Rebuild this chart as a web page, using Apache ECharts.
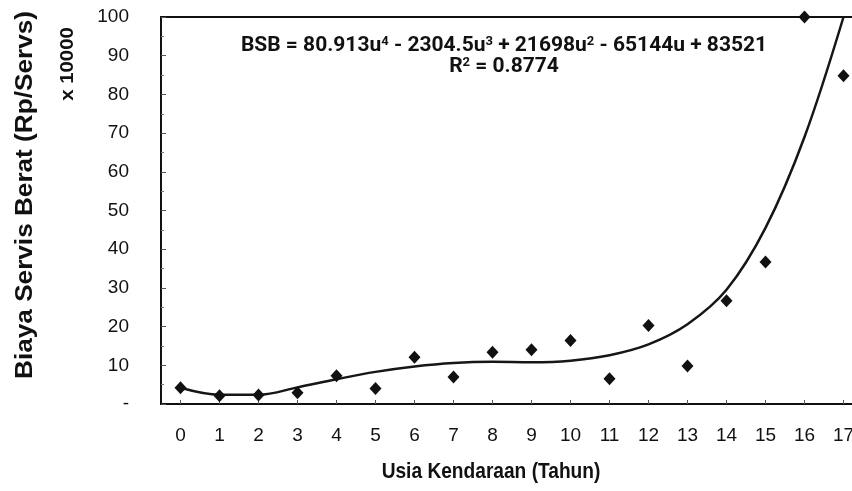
<!DOCTYPE html>
<html><head><meta charset="utf-8">
<script src="https://cdn.jsdelivr.net/npm/echarts@6/dist/echarts.min.js"></script>
<style>html,body{margin:0;padding:0;background:#fff;overflow:hidden;width:852px;height:491px}#c{width:866px;height:491px}</style>
</head><body><div id="c"></div>
<script>
const years = ['0','1','2','3','4','5','6','7','8','9','10','11','12','13','14','15','16','17'];
const biaya = [4.2, 2.1, 2.3, 2.9, 7.3, 4.0, 12.1, 7.0, 13.4, 14.0, 16.4, 6.5, 20.3, 9.8, 26.7, 36.7, 100, 84.8];
const trend = [4.2, 2.4, 2.4, 4.3, 6.4, 8.3, 9.7, 10.6, 10.9, 10.8, 11.2, 12.6, 15.4, 20.6, 29.5, 45.5, 69, 100];
const yTicks = ['-', '10', '20', '30', '40', '50', '60', '70', '80', '90', '100'];
const eqText = 'BSB = 80.913u{s|4} - 2304.5u{s|3} + 21698u{s|2} - 65144u + 83521';
const r2Text = 'R{s|2} = 0.8774';

const eqRich = { s: { fontSize: 13, fontWeight: 'bold', fontFamily: 'Roboto, Liberation Sans', fill: '#111', verticalAlign: 'top', padding: [0, 0, 9, 0] } };

const chart = echarts.init(document.getElementById('c'));
chart.setOption({
  animation: false,
  backgroundColor: '#fff',
  grid: { left: 161, top: 17, width: 702, height: 387, show: true, borderColor: '#111', borderWidth: 2, backgroundColor: 'transparent' },
  xAxis: {
    type: 'category', data: years, boundaryGap: true,
    axisLine: { lineStyle: { color: '#111', width: 2 } },
    axisTick: { show: true, inside: true, length: 4, alignWithLabel: true, lineStyle: { color: '#555' } },
    axisLabel: { color: '#111', fontSize: 19, fontFamily: 'Liberation Sans, Arial', margin: 22 },
    splitLine: { show: false }
  },
  yAxis: {
    type: 'value', min: 0, max: 100, interval: 10,
    axisLine: { show: true, lineStyle: { color: '#111', width: 2 } },
    axisTick: { show: true, inside: true, length: 5, lineStyle: { color: '#555' } },
    minorTick: { show: true, splitNumber: 2, length: 3, lineStyle: { color: '#777' } },
    axisLabel: { color: '#111', fontSize: 19, fontFamily: 'Liberation Sans, Arial', margin: 32,
      formatter: (v) => yTicks[Math.round(v / 10)] },
    splitLine: { show: false }
  },
  series: [
    { type: 'line', data: trend, smooth: 0.35, symbol: 'none', z: 2,
      lineStyle: { color: '#161616', width: 2.5 } },
    { type: 'scatter', data: biaya, symbol: 'diamond', symbolSize: [12, 13], z: 3,
      itemStyle: { color: '#111', opacity: 1 } }
  ],
  graphic: [
    { type: 'text', x: 25, y: 195, rotation: Math.PI / 2, scaleX: 1.09,
      style: { text: 'Biaya Servis Berat (Rp/Servs)', fontSize: 24, fontWeight: 'bold', fontFamily: 'Liberation Sans, Arial',
        fill: '#111', align: 'center', verticalAlign: 'middle' } },
    { type: 'text', x: 68, y: 64, rotation: Math.PI / 2, scaleX: 1.07,
      style: { text: 'x 10000', fontSize: 19, fontWeight: 'bold', fontFamily: 'Liberation Sans, Arial',
        fill: '#111', align: 'center', verticalAlign: 'middle' } },
    { type: 'text', x: 491, y: 472, scaleX: 0.87,
      style: { text: 'Usia Kendaraan (Tahun)', fontSize: 22, fontWeight: 'bold', fontFamily: 'Liberation Sans, Arial',
        fill: '#111', align: 'center', verticalAlign: 'middle' } },
    { type: 'text', x: 504, y: 46, z: 10,
      style: { text: eqText, rich: eqRich, fontSize: 21, fontWeight: 'bold', fontFamily: 'Roboto, Liberation Sans',
        fill: '#111', align: 'center', verticalAlign: 'middle' } },
    { type: 'text', x: 504, y: 67, z: 10,
      style: { text: r2Text, rich: eqRich, fontSize: 21, fontWeight: 'bold', fontFamily: 'Roboto, Liberation Sans',
        fill: '#111', align: 'center', verticalAlign: 'middle' } }
  ]
});
</script></body></html>
